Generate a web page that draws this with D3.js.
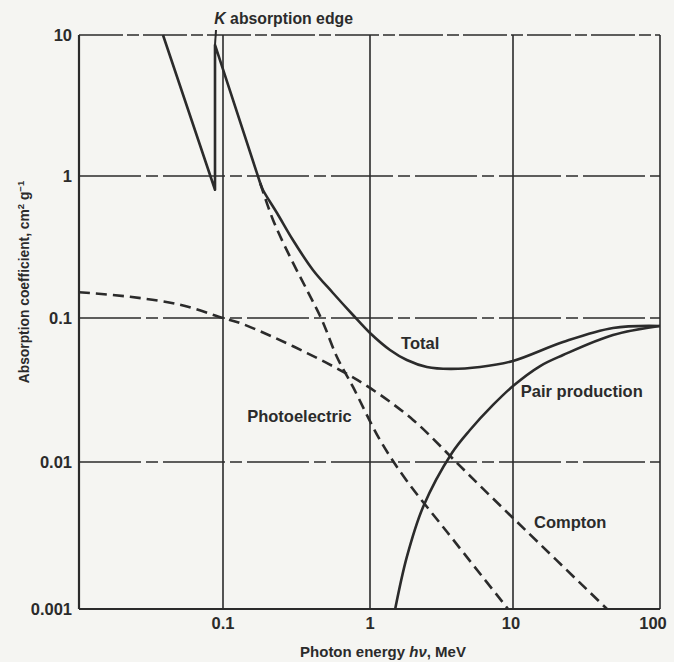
<!DOCTYPE html>
<html>
<head>
<meta charset="utf-8">
<script src="https://cdn.jsdelivr.net/npm/d3@7"></script>
<style>
  body { margin: 0; background: #f5f5f2; }
  svg { display: block; }
  text { font-family: "Liberation Sans", Arial, sans-serif; font-weight: bold; fill: #2b2b2b; }
</style>
</head>
<body>
<svg width="674" height="662"></svg>
<script>
// DATA  (energy in MeV, coefficient in cm2/g)
const energyTicks = [0.1, 1, 10, 100]
const energyTickLabels = ["0.1", "1", "10", "100"]
const coeffTicks = [10, 1, 0.1, 0.01, 0.001]
const coeffTickLabels = ["10", "1", "0.1", "0.01", "0.001"]

const totalKEdge = [[0.0383, 10], [0.088, 0.80], [0.088, 8.5], [0.179, 0.893]]
const total = [[0.179, 0.893], [0.187, 0.797], [0.233, 0.549], [0.299, 0.354], [0.409, 0.218], [0.560, 0.150],
  [0.766, 0.105], [1, 0.0787], [1.38, 0.060], [1.81, 0.0511], [2.50, 0.0457], [3.63, 0.0443], [5.88, 0.0457],
  [10, 0.0503], [21.9, 0.0681], [47.9, 0.0853], [100, 0.088]]
const photoelectric = [[0.179, 0.893], [0.219, 0.490], [0.286, 0.269], [0.373, 0.157], [0.471, 0.0969],
  [0.596, 0.0536], [0.766, 0.0332], [1.175, 0.0142], [1.79, 0.00755], [3.46, 0.00334], [9.23, 0.001]]
const compton = [[0.01, 0.152], [0.0226, 0.141], [0.0502, 0.124], [0.1, 0.1], [0.1305, 0.0923], [0.219, 0.0738],
  [0.373, 0.0571], [0.625, 0.0435], [1, 0.0327], [2.0, 0.0196], [4.0, 0.01], [5.34, 0.00755], [10, 0.00416], [43.6, 0.001]]
const pairProduction = [[1.5, 0.001], [1.81, 0.00226], [2.35, 0.00494], [3.74, 0.01155], [5.0, 0.01668],
  [7.25, 0.0249], [10, 0.0337], [15.3, 0.0464], [21.9, 0.0553], [47.9, 0.0762], [100, 0.088]]

// SETUP
const svg = d3.select("svg")
const ink = "#2b2b2b"

// the printed decades are not quite even, so the scales are piecewise
const scaleX = d3.scaleLog()
	.domain([0.01, 0.1, 1, 10, 100])
	.range([79, 223, 370, 513, 660])

const scaleY = d3.scaleLog()
	.domain([0.001, 0.01, 0.1, 1, 10])
	.range([609, 462, 318, 176, 35])

const [x0, x1] = [scaleX(0.01), scaleX(100)]
const [y0, y1] = [scaleY(10), scaleY(0.001)]

svg.append("defs")
	.append("clipPath")
	.attr("id", "plot")
	.append("rect")
	.attr("x", x0)
	.attr("y", y0 - 1)
	.attr("width", x1 - x0)
	.attr("height", y1 - y0 + 1)

// GRID
svg.append("g")
	.selectAll("line")
	.data(coeffTicks.slice(0, 4))
	.enter()
	.append("line")
	.attr("x1", x0)
	.attr("x2", x1)
	.attr("y1", d => scaleY(d))
	.attr("y2", d => scaleY(d))
	.attr("stroke", ink)
	.attr("stroke-width", 1.7)
	.attr("stroke-dasharray", (d, i) => i === 0 ? "44,4,12,4" : "62,5,12,5")

svg.append("g")
	.selectAll("line")
	.data(energyTicks)
	.enter()
	.append("line")
	.attr("x1", d => scaleX(d))
	.attr("x2", d => scaleX(d))
	.attr("y1", y0)
	.attr("y2", y1)
	.attr("stroke", ink)
	.attr("stroke-width", 1.6)

// AXES
svg.append("line")
	.attr("x1", x0)
	.attr("x2", x0)
	.attr("y1", y0)
	.attr("y2", y1)
	.attr("stroke", ink)
	.attr("stroke-width", 2.2)

svg.append("line")
	.attr("x1", x0)
	.attr("x2", x1)
	.attr("y1", y1)
	.attr("y2", y1)
	.attr("stroke", ink)
	.attr("stroke-width", 2.2)

svg.append("g")
	.selectAll("text")
	.data(coeffTicks)
	.enter()
	.append("text")
	.attr("x", x0 - 7)
	.attr("y", d => scaleY(d) + 6)
	.attr("text-anchor", "end")
	.attr("font-size", 16.5)
	.text((d, i) => coeffTickLabels[i])

svg.append("g")
	.selectAll("text")
	.data(energyTicks)
	.enter()
	.append("text")
	.attr("x", d => scaleX(d) - (d === 100 ? 7 : d === 10 ? 2 : 0))
	.attr("y", 629)
	.attr("text-anchor", "middle")
	.attr("font-size", 16.5)
	.text((d, i) => energyTickLabels[i])

const titleX = svg.append("text")
	.attr("x", 383)
	.attr("y", 657)
	.attr("text-anchor", "middle")
	.attr("font-size", 15)
titleX.append("tspan").text("Photon energy ")
titleX.append("tspan").attr("font-style", "italic").text("hν")
titleX.append("tspan").text(", MeV")

const titleY = svg.append("text")
	.attr("transform", "translate(29, 282) rotate(-90)")
	.attr("text-anchor", "middle")
	.attr("font-size", 13.8)
titleY.append("tspan").text("Absorption coefficient, cm")
titleY.append("tspan").attr("font-size", 9.5).attr("dy", -5).text("2")
titleY.append("tspan").attr("dy", 5).text(" g")
titleY.append("tspan").attr("font-size", 9.5).attr("dy", -5).text("−1")

// CURVES
const straight = d3.line()
	.x(d => scaleX(d[0]))
	.y(d => scaleY(d[1]))

const smooth = d3.line()
	.x(d => scaleX(d[0]))
	.y(d => scaleY(d[1]))
	.curve(d3.curveCatmullRom.alpha(0.5))

const curves = svg.append("g")
	.attr("clip-path", "url(#plot)")
	.attr("fill", "none")
	.attr("stroke", ink)
	.attr("stroke-width", 2.6)
	.attr("stroke-linejoin", "round")

curves.append("path").attr("d", straight(totalKEdge))
curves.append("path").attr("d", smooth(total))
curves.append("path").attr("d", smooth(pairProduction))
curves.append("path").attr("d", smooth(photoelectric)).attr("stroke-dasharray", "11,6")
curves.append("path").attr("d", smooth(compton)).attr("stroke-dasharray", "11,6")

// K-edge pointer
svg.append("line")
	.attr("x1", scaleX(0.088) + 1)
	.attr("x2", scaleX(0.088))
	.attr("y1", y0 - 5)
	.attr("y2", scaleY(8.5))
	.attr("stroke", ink)
	.attr("stroke-width", 2)

// LABELS
const label = (text, e, c) => svg.append("text")
	.attr("x", scaleX(e))
	.attr("y", scaleY(c))
	.attr("font-size", 16.5)
	.text(text)

label("Total", 1.65, 0.0605)
label("Pair production", 11.3, 0.0282)
label("Photoelectric", 0.146, 0.019)
label("Compton", 13.9, 0.00356)

const kLabel = svg.append("text")
	.attr("x", scaleX(0.087))
	.attr("y", y0 - 11)
	.attr("font-size", 15.8)
kLabel.append("tspan").attr("font-style", "italic").text("K")
kLabel.append("tspan").text(" absorption edge")
</script>
</body>
</html>
